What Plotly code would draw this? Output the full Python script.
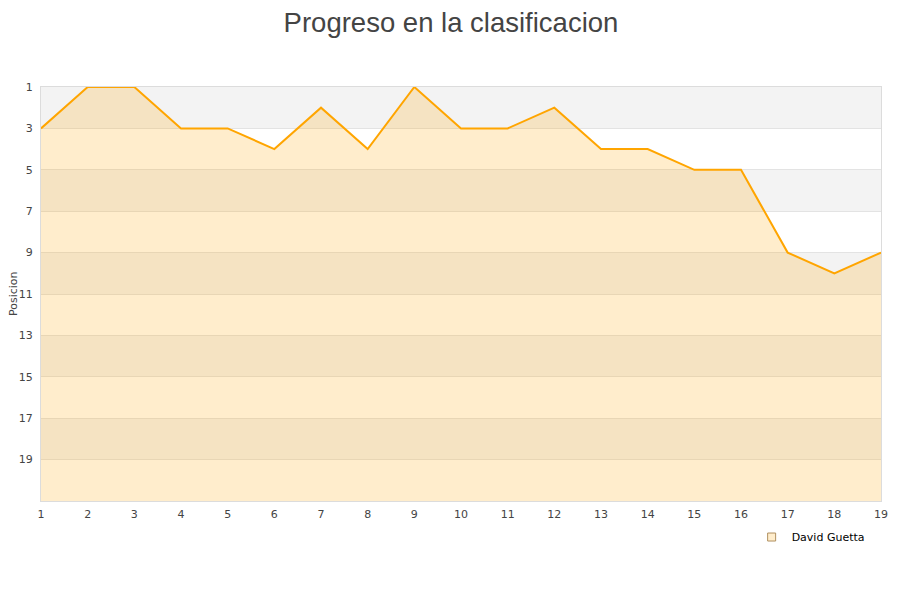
import plotly.graph_objects as go

semanas = list(range(1, 20))
posiciones = [3, 1, 1, 3, 3, 4, 2, 4, 1, 3, 3, 2, 4, 4, 5, 5, 9, 10, 9]
serie = "David Guetta"
y_ticks = list(range(1, 21, 2))
bandas = [(1, 3), (5, 7), (9, 11), (13, 15), (17, 19)]
titulo = "Progreso en la clasificacion"

fig = go.Figure()
fig.add_trace(go.Scatter(x=semanas, y=[21] * len(semanas), mode="lines",
                         line=dict(width=0), showlegend=False, hoverinfo="skip"))
fig.add_trace(go.Scatter(x=semanas, y=posiciones, mode="lines", fill="tonexty",
                         fillcolor="rgba(255,165,0,0.2)",
                         line=dict(color="#ffa500", width=2), showlegend=False))
fig.add_trace(go.Scatter(x=[None], y=[None], mode="markers", name=serie,
                         marker=dict(symbol="square", size=8, color="#ffedcc",
                                     line=dict(color="#b09060", width=1))))

for a, b in bandas:
    fig.add_shape(type="rect", xref="paper", x0=0, x1=1, yref="y", y0=a, y1=b,
                  fillcolor="#f3f3f3", line=dict(width=0), layer="below")

fig.add_annotation(text="Posicion", xref="paper", yref="paper", x=-28 / 840, y=0.5,
                   xanchor="center", yanchor="middle", textangle=-90, showarrow=False,
                   font=dict(size=11, color="#444"))

fig.update_layout(
    width=900, height=600,
    paper_bgcolor="white", plot_bgcolor="white",
    margin=dict(l=33, r=27, t=79, b=107, autoexpand=False),
    title=dict(text=titulo, x=443 / 900, xanchor="center", y=0.976, yanchor="middle",
               pad=dict(t=0, b=0),
               font=dict(family="Liberation Sans, Arial", size=27.5, color="#444")),
    font=dict(family="DejaVu Sans", size=11, color="#444"),
    showlegend=True,
    legend=dict(x=0.846, y=-0.087, xanchor="left", yanchor="middle",
                bgcolor="white", font=dict(size=11, color="#000"),
                itemwidth=30),
)
fig.update_xaxes(range=[1, 19], tickvals=semanas, showgrid=False, zeroline=False,
                 showline=True, linecolor="#dcdcdc", mirror=True,
                 ticks="outside", ticklen=3, tickcolor="rgba(0,0,0,0)",
                 automargin=False, tickfont=dict(size=11, color="#444"))
fig.update_yaxes(range=[21, 1], tickvals=y_ticks, showgrid=True, gridcolor="#e3e3e3",
                 zeroline=False, showline=True, linecolor="#dcdcdc", mirror=True,
                 ticks="outside", ticklen=5, tickcolor="rgba(0,0,0,0)",
                 automargin=False, tickfont=dict(size=11, color="#444"))

fig.write_html("out.html")
